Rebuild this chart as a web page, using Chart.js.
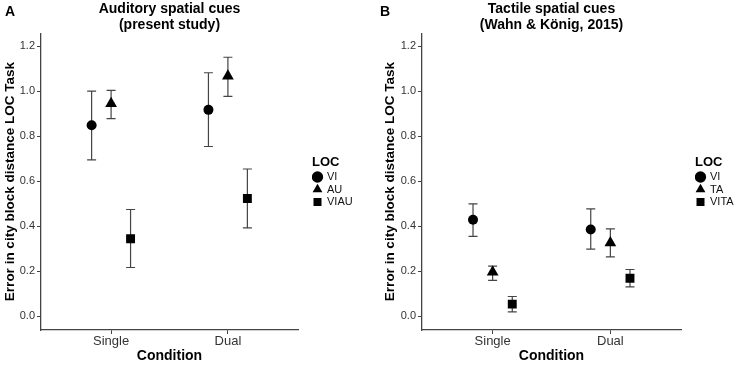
<!DOCTYPE html>
<html>
<head>
<meta charset="utf-8">
<script src="https://cdn.jsdelivr.net/npm/chart.js@4"></script>
<style>
  body { margin: 0; background: #fff; }
  .panel { position: absolute; top: 0; height: 365px; }
</style>
</head>
<body>
<div class="panel" style="left:0;width:368px"><canvas id="chartA"></canvas></div>
<div class="panel" style="left:378px;width:359px"><canvas id="chartB"></canvas></div>
<script>
const conditions = ['Single', 'Dual'];
const yTicks = [0, 0.2, 0.4, 0.6, 0.8, 1.0, 1.2];
const dodge = [-1 / 6, 0, 1 / 6];
const shapes = ['circle', 'triangle', 'rect'];
const shapeRadius = [5, 6.8, 6.3];

// panel A - auditory spatial cues
const seriesA = ['VI', 'AU', 'VIAU'];
const meanA = [[0.849, 0.917], [0.945, 1.067], [0.344, 0.523]];
const lowA = [[0.695, 0.754], [0.878, 0.977], [0.216, 0.392]];
const highA = [[1.000, 1.082], [1.004, 1.151], [0.474, 0.654]];

// panel B - tactile spatial cues
const seriesB = ['VI', 'TA', 'VITA'];
const meanB = [[0.428, 0.385], [0.196, 0.326], [0.053, 0.168]];
const lowB = [[0.354, 0.298], [0.159, 0.263], [0.019, 0.130]];
const highB = [[0.499, 0.477], [0.222, 0.388], [0.087, 0.207]];

const FONT = "'Liberation Sans', Arial, sans-serif";

// whiskers drawn under the points
const errorBars = {
  id: 'errorBars',
  beforeDatasetsDraw(chart) {
    const { ctx, scales: { x, y } } = chart;
    ctx.save();
    ctx.strokeStyle = '#444';
    ctx.lineWidth = 1.2;
    chart.data.datasets.forEach(ds => {
      ds.data.forEach(p => {
        const px = x.getPixelForValue(p.x);
        const top = y.getPixelForValue(p.hi);
        const bot = y.getPixelForValue(p.lo);
        ctx.beginPath();
        ctx.moveTo(px, top); ctx.lineTo(px, bot);
        ctx.moveTo(px - 4.5, top); ctx.lineTo(px + 4.5, top);
        ctx.moveTo(px - 4.5, bot); ctx.lineTo(px + 4.5, bot);
        ctx.stroke();
      });
    });
    ctx.restore();
  }
};

// the "A" / "B" in the corner
const panelLetter = {
  id: 'panelLetter',
  afterDraw(chart, args, opts) {
    const ctx = chart.ctx;
    ctx.save();
    ctx.fillStyle = '#000';
    ctx.font = 'bold 14px ' + FONT;
    ctx.textBaseline = 'middle';
    ctx.fillText(opts.text, opts.x, 12.5);
    ctx.restore();
  }
};

function makeData(names, mean, low, high) {
  return names.map((name, i) => ({
    label: name,
    data: conditions.map((c, j) => ({ x: j + 1 + dodge[i], y: mean[i][j], lo: low[i][j], hi: high[i][j] })),
    pointStyle: shapes[i],
    pointRadius: shapeRadius[i],
    pointHoverRadius: shapeRadius[i],
    backgroundColor: '#000',
    borderColor: '#000',
    borderWidth: 0
  }));
}

// p: small layout numbers per panel
function makeChart(id, p, title, names, mean, low, high) {
  return new Chart(document.getElementById(id), {
    type: 'scatter',
    data: { datasets: makeData(names, mean, low, high) },
    plugins: [errorBars, panelLetter],
    options: {
      responsive: true,
      maintainAspectRatio: false,
      animation: false,
      layout: { padding: { top: 0, left: 2, right: p.padRight, bottom: 0 } },
      plugins: {
        panelLetter: { text: p.letter, x: p.letterX },
        title: {
          display: true,
          text: title,
          fullSize: false,
          color: '#000',
          font: { family: FONT, size: 14, weight: 'bold', lineHeight: 1.15 },
          padding: { top: 1, bottom: 0 }
        },
        legend: {
          position: 'right',
          maxWidth: p.legendWidth,
          title: {
            display: true,
            text: 'LOC',
            position: 'start',
            color: '#000',
            font: { family: FONT, size: 13, weight: 'bold', lineHeight: 1 },
            padding: { top: 0, bottom: 1 }
          },
          labels: {
            usePointStyle: true,
            boxWidth: 8,
            boxHeight: 8,
            padding: 1.5,
            color: '#111',
            font: { family: FONT, size: 11 }
          }
        },
        tooltip: { enabled: false }
      },
      scales: {
        x: {
          type: 'linear',
          min: 0.4,
          max: 2.6,
          afterFit: scale => { scale.height = 35; },
          afterBuildTicks: scale => { scale.ticks = conditions.map((c, i) => ({ value: i + 1 })); },
          ticks: {
            callback: v => conditions[v - 1],
            color: '#333',
            font: { family: FONT, size: 13 },
            padding: 0
          },
          grid: { drawOnChartArea: false, drawTicks: true, tickLength: 4, color: '#444' },
          border: { color: '#444', width: 1.3 },
          title: {
            display: true,
            text: 'Condition',
            color: '#000',
            font: { family: FONT, size: 14, weight: 'bold' },
            padding: { top: 0, bottom: 0 }
          }
        },
        y: {
          min: -0.062,
          max: 1.258,
          afterFit: scale => { scale.width = p.yWidth; },
          afterBuildTicks: scale => { scale.ticks = yTicks.map(v => ({ value: v })); },
          ticks: {
            callback: v => v.toFixed(1),
            color: '#333',
            font: { family: FONT, size: 11 },
            padding: 2
          },
          grid: { drawOnChartArea: false, drawTicks: true, tickLength: 4, color: '#444' },
          border: { color: '#444', width: 1.3 },
          title: {
            display: true,
            text: 'Error in city block distance LOC Task',
            color: '#000',
            font: { family: FONT, size: 13.5, weight: 'bold' },
            padding: { top: p.yTitleGap, bottom: 2 }
          }
        },
        // empty strip between the plot and the legend
        gap: {
          type: 'linear',
          position: 'right',
          ticks: { display: false },
          grid: { display: false },
          border: { display: false },
          afterFit: scale => { scale.width = p.gap; }
        }
      }
    }
  });
}

makeChart('chartA', { letter: 'A', letterX: 5, padRight: 8, legendWidth: 48, yWidth: 39, yTitleGap: 0, gap: 14 },
  ['Auditory spatial cues', '(present study)'], seriesA, meanA, lowA, highA);
makeChart('chartB', { letter: 'B', letterX: 2, padRight: 0, legendWidth: 42, yWidth: 42, yTitleGap: 2, gap: 14 },
  ['Tactile spatial cues', '(Wahn & König, 2015)'], seriesB, meanB, lowB, highB);
</script>
</body>
</html>
